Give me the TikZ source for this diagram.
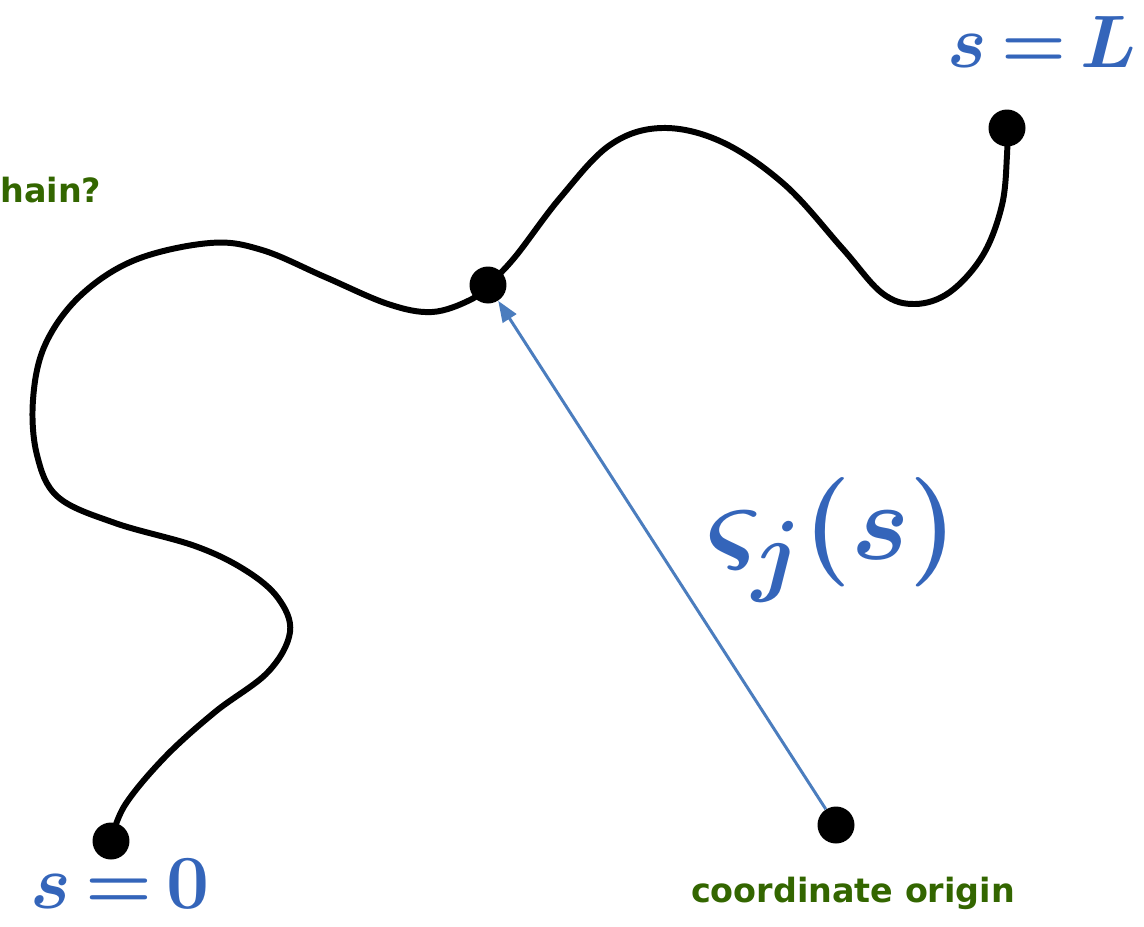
\documentclass[tikz,border=0pt]{standalone}
\usepackage{fontspec}
\usepackage{amsmath}
\usepackage{graphicx}
\usetikzlibrary{arrows.meta}
\newfontfamily\labelfont{DejaVu Sans}
\definecolor{chInk}{HTML}{000000}
\definecolor{chBlue}{HTML}{3465BA}
\definecolor{chArrow}{HTML}{4B7DBE}
\definecolor{chGreen}{HTML}{336600}
\newcommand{\handtext}[2][1.7]{\scalebox{#1}{\boldmath$#2$}}

\begin{document}
\begin{tikzpicture}[x=0.02cm,y=-0.02cm,
		dot/.style={circle,fill=chInk,inner sep=0pt,minimum size=0.74cm},
		hand/.style={text=chBlue,inner sep=0pt,font=\fontsize{24.88}{28}\selectfont},
		note/.style={text=chGreen,inner sep=0pt,font=\labelfont\bfseries\fontsize{19}{22}\selectfont}]
		\useasboundingbox (0,0) rectangle (1144,927);
		% the chain, from s=0 to s=L
		\draw[chInk,line width=3.4pt,line cap=round] plot[smooth,tension=0.6] coordinates {
			(111,841) (125,805) (165,757) (215,712) (268,672) (290,632) (278,598)
			(245,570) (195,546) (115,523) (58,497) (37,455) (33,400) (45,345)
			(80,296) (135,260) (210,243) (262,250) (325,277) (388,304) (432,312)
			(470,300) (488,285) (515,257) (560,198) (610,145) (662,128) (722,142)
			(785,185) (842,248) (882,293) (915,304) (950,292) (983,255) (1002,205)
			(1007,155) (1007,128)};
		\node[dot] (s0) at (111,841) {};
		\node[dot] (sj) at (488,285) {};
		\node[dot] (sL) at (1007,128) {};
		\node[dot] (origin) at (836,825) {};
		% position vector
		\draw[chArrow,line width=1.7pt,-{Triangle[length=12pt,width=9pt]}] (origin) -- (sj);
		\node[hand] (lblL) at (1042,42) {\handtext{s\,{=}\,L}};
		\node[hand] (lbl0) at (120,884) {\handtext[1.75]{s\,{=}\,0}};
		\node[hand] (lblvec) at (832,540) {\handtext[2.5]{\varsigma_j(s)}};
		\node[note] (lblorig) at (853,893) {coordinate origin};
		\node[note,anchor=west] (lblchain) at (0,190) {hain?};
	\end{tikzpicture}
\end{document}
